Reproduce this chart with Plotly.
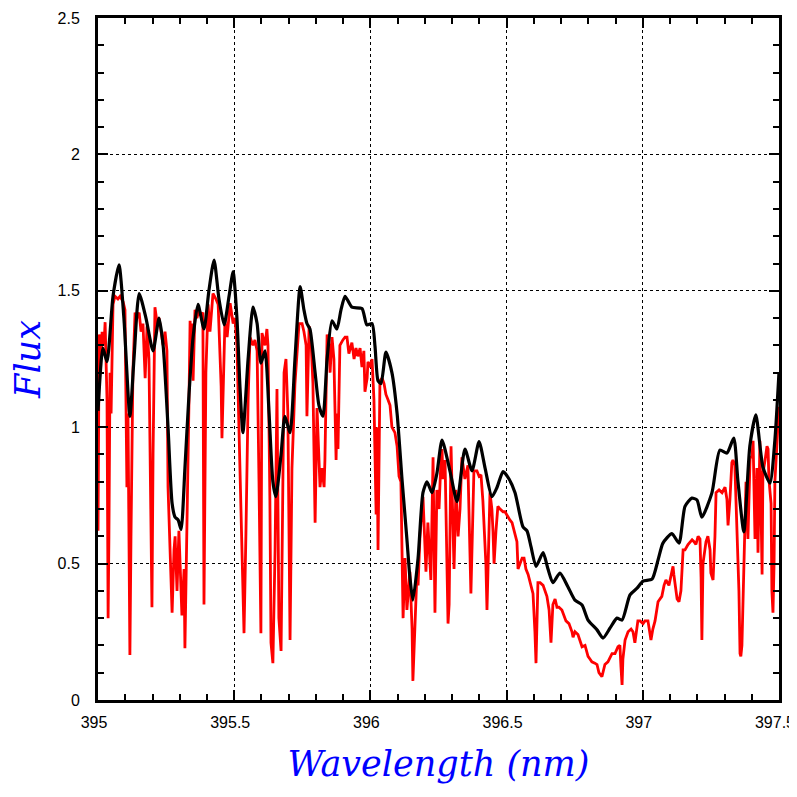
import plotly.graph_objects as go

# black spectrum (smooth)
wl_black = [395.000, 395.018, 395.033, 395.055, 395.077, 395.095, 395.117, 395.132, 395.151, 395.176,
            395.202, 395.224, 395.239, 395.257, 395.272, 395.283, 395.294, 395.305, 395.319, 395.334,
            395.349, 395.367, 395.389, 395.407, 395.426, 395.444, 395.463, 395.481, 395.496, 395.510,
            395.521, 395.532, 395.551, 395.569, 395.584, 395.598, 395.613, 395.628, 395.642, 395.653,
            395.672, 395.686, 395.705, 395.723, 395.742, 395.756, 395.767, 395.778, 395.797, 395.811,
            395.826, 395.841, 395.859, 395.877, 395.892, 395.907, 395.932, 395.969, 395.987, 396.006,
            396.017, 396.028, 396.039, 396.057, 396.079, 396.098, 396.116, 396.134, 396.145, 396.156,
            396.175, 396.193, 396.208, 396.226, 396.244, 396.263, 396.292, 396.318, 396.347, 396.373,
            396.399, 396.421, 396.446, 396.465, 396.487, 396.509, 396.531, 396.560, 396.575, 396.590,
            396.608, 396.634, 396.652, 396.670, 396.696, 396.725, 396.751, 396.777, 396.799, 396.832,
            396.854, 396.880, 396.905, 396.924, 396.953, 396.979, 397.001, 397.034, 397.056, 397.074,
            397.107, 397.133, 397.155, 397.180, 397.199, 397.217, 397.254, 397.283, 397.309, 397.334,
            397.349, 397.371, 397.393, 397.415, 397.441, 397.467, 397.485, 397.500]
flux_black = [1.06, 1.29, 1.24, 1.48, 1.595, 1.40, 1.04, 1.25, 1.49, 1.40,
              1.28, 1.40, 1.30, 1.00, 0.72, 0.67, 0.66, 0.625, 0.85, 1.12,
              1.33, 1.45, 1.36, 1.50, 1.613, 1.47, 1.375, 1.48, 1.57, 1.40,
              1.15, 0.98, 1.25, 1.44, 1.38, 1.235, 1.28, 1.05, 0.80, 0.745,
              0.90, 1.04, 0.98, 1.25, 1.515, 1.43, 1.38, 1.36, 1.20, 1.08,
              1.04, 1.25, 1.39, 1.36, 1.43, 1.48, 1.44, 1.435, 1.375, 1.38,
              1.295, 1.17, 1.16, 1.275, 1.20, 1.05, 0.81, 0.59, 0.45, 0.366,
              0.52, 0.76, 0.80, 0.76, 0.83, 0.953, 0.84, 0.727, 0.92, 0.84,
              0.947, 0.85, 0.745, 0.78, 0.837, 0.81, 0.76, 0.635, 0.62, 0.56,
              0.49, 0.54, 0.48, 0.43, 0.465, 0.415, 0.366, 0.348, 0.293, 0.257,
              0.227, 0.264, 0.30, 0.293, 0.385, 0.41, 0.436, 0.443, 0.513, 0.575,
              0.61, 0.575, 0.71, 0.74, 0.733, 0.67, 0.76, 0.916, 0.905, 0.96,
              0.806, 0.616, 0.93, 1.045, 0.854, 0.795, 0.953, 1.20]

# red spectrum (noisy)
wl_red = [395.000, 395.004, 395.011, 395.015, 395.022, 395.026, 395.033, 395.037, 395.040, 395.044,
          395.048, 395.055, 395.062, 395.073, 395.081, 395.092, 395.099, 395.106, 395.110, 395.117,
          395.121, 395.128, 395.136, 395.143, 395.151, 395.158, 395.165, 395.173, 395.180, 395.187,
          395.198, 395.202, 395.209, 395.217, 395.224, 395.231, 395.239, 395.246, 395.253, 395.257,
          395.264, 395.272, 395.279, 395.283, 395.290, 395.297, 395.308, 395.316, 395.319, 395.327,
          395.334, 395.338, 395.341, 395.345, 395.349, 395.356, 395.363, 395.371, 395.378, 395.385,
          395.389, 395.396, 395.404, 395.411, 395.422, 395.433, 395.441, 395.452, 395.455, 395.466,
          395.474, 395.485, 395.496, 395.503, 395.510, 395.521, 395.532, 395.536, 395.543, 395.551,
          395.558, 395.569, 395.576, 395.584, 395.591, 395.595, 395.598, 395.602, 395.613, 395.620,
          395.624, 395.631, 395.635, 395.642, 395.650, 395.657, 395.664, 395.672, 395.679, 395.683,
          395.690, 395.697, 395.705, 395.712, 395.723, 395.731, 395.738, 395.749, 395.756, 395.764,
          395.767, 395.775, 395.782, 395.789, 395.797, 395.804, 395.811, 395.815, 395.822, 395.830,
          395.833, 395.841, 395.848, 395.852, 395.859, 395.866, 395.874, 395.877, 395.881, 395.888,
          395.899, 395.907, 395.914, 395.921, 395.932, 395.940, 395.947, 395.954, 395.962, 395.969,
          395.976, 395.980, 395.988, 395.991, 395.999, 396.006, 396.013, 396.021, 396.024, 396.028,
          396.035, 396.043, 396.050, 396.057, 396.065, 396.072, 396.079, 396.090, 396.098, 396.105,
          396.112, 396.116, 396.120, 396.127, 396.134, 396.145, 396.153, 396.156, 396.164, 396.171,
          396.175, 396.182, 396.193, 396.204, 396.211, 396.222, 396.230, 396.237, 396.244, 396.252,
          396.259, 396.263, 396.266, 396.274, 396.285, 396.289, 396.296, 396.307, 396.314, 396.322,
          396.329, 396.336, 396.347, 396.358, 396.369, 396.380, 396.391, 396.399, 396.406, 396.413,
          396.424, 396.428, 396.439, 396.446, 396.450, 396.454, 396.461, 396.468, 396.476, 396.487,
          396.494, 396.505, 396.512, 396.520, 396.531, 396.538, 396.542, 396.549, 396.557, 396.564,
          396.571, 396.579, 396.590, 396.597, 396.604, 396.608, 396.615, 396.623, 396.634, 396.641,
          396.648, 396.656, 396.663, 396.670, 396.678, 396.685, 396.692, 396.703, 396.718, 396.729,
          396.740, 396.744, 396.751, 396.762, 396.769, 396.777, 396.788, 396.799, 396.806, 396.813,
          396.824, 396.832, 396.839, 396.850, 396.861, 396.872, 396.887, 396.898, 396.909, 396.916,
          396.920, 396.924, 396.927, 396.935, 396.946, 396.957, 396.964, 396.971, 396.982, 396.990,
          397.001, 397.008, 397.019, 397.026, 397.030, 397.037, 397.045, 397.056, 397.063, 397.070,
          397.078, 397.085, 397.096, 397.103, 397.111, 397.114, 397.122, 397.126, 397.133, 397.140,
          397.148, 397.155, 397.166, 397.173, 397.181, 397.188, 397.195, 397.203, 397.210, 397.214,
          397.217, 397.221, 397.232, 397.239, 397.247, 397.250, 397.258, 397.265, 397.269, 397.280,
          397.291, 397.302, 397.309, 397.313, 397.320, 397.327, 397.331, 397.338, 397.346, 397.353,
          397.357, 397.360, 397.364, 397.368, 397.375, 397.379, 397.386, 397.394, 397.401, 397.405,
          397.412, 397.419, 397.423, 397.430, 397.438, 397.441, 397.449, 397.456, 397.460, 397.463,
          397.471, 397.474, 397.478, 397.482, 397.485, 397.493, 397.500]
flux_red = [0.62, 1.34, 1.25, 1.35, 1.30, 1.385, 1.10, 0.30, 0.60, 1.20,
            1.05, 1.45, 1.48, 1.47, 1.48, 1.46, 1.43, 0.78, 1.05, 0.165,
            0.60, 1.20, 1.42, 1.40, 1.42, 1.35, 1.38, 1.18, 1.37, 1.25,
            0.34, 0.90, 1.44, 1.38, 1.40, 1.36, 1.30, 1.35, 1.28, 0.78,
            0.53, 0.32, 0.55, 0.60, 0.40, 0.62, 0.31, 0.48, 0.19, 0.78,
            1.10, 1.39, 1.30, 1.38, 1.17, 1.43, 1.40, 1.43, 1.41, 1.42,
            0.35, 1.20, 1.45, 1.35, 1.49, 1.47, 1.45, 1.15, 0.96, 1.39,
            1.33, 1.455, 1.38, 1.40, 1.30, 0.85, 0.45, 0.245, 0.61, 1.10,
            1.33, 1.30, 1.32, 1.28, 0.80, 0.40, 0.245, 1.345, 1.30, 1.36,
            1.30, 0.73, 0.21, 0.135, 0.55, 1.14, 0.30, 0.18, 0.90, 1.20,
            1.25, 1.05, 0.22, 0.85, 1.16, 1.30, 1.38, 1.38, 1.35, 1.30,
            1.04, 1.37, 1.32, 1.16, 0.65, 1.07, 0.90, 0.78, 0.85, 0.78,
            0.88, 1.34, 1.30, 1.20, 1.33, 1.25, 0.88, 1.05, 0.92, 1.30,
            1.32, 1.33, 1.33, 1.27, 1.31, 1.25, 1.29, 1.26, 1.29, 1.22,
            1.28, 1.13, 1.18, 1.24, 1.22, 1.25, 1.10, 0.68, 1.00, 0.55,
            1.17, 1.18, 1.16, 1.12, 1.10, 1.08, 1.00, 0.98, 0.93, 0.82,
            0.80, 0.61, 0.30, 0.52, 0.33, 0.47, 0.26, 0.07, 0.26, 0.47,
            0.42, 0.60, 0.745, 0.47, 0.65, 0.44, 0.89, 0.32, 0.77, 0.70,
            0.88, 0.92, 0.81, 0.88, 0.28, 0.35, 0.93, 0.48, 0.77, 0.60,
            0.70, 0.89, 0.81, 0.86, 0.39, 0.84, 0.84, 0.82, 0.825, 0.73,
            0.50, 0.33, 0.76, 0.70, 0.62, 0.50, 0.62, 0.71, 0.70, 0.69,
            0.69, 0.67, 0.66, 0.65, 0.60, 0.58, 0.48, 0.50, 0.52, 0.52,
            0.48, 0.46, 0.42, 0.39, 0.25, 0.135, 0.43, 0.43, 0.42, 0.40,
            0.38, 0.33, 0.21, 0.35, 0.37, 0.34, 0.34, 0.33, 0.29, 0.28,
            0.25, 0.23, 0.25, 0.24, 0.22, 0.195, 0.20, 0.16, 0.15, 0.14,
            0.135, 0.13, 0.10, 0.085, 0.13, 0.14, 0.17, 0.17, 0.195, 0.20,
            0.12, 0.055, 0.15, 0.22, 0.25, 0.26, 0.25, 0.21, 0.29, 0.29,
            0.28, 0.29, 0.29, 0.25, 0.22, 0.26, 0.29, 0.36, 0.37, 0.38,
            0.42, 0.44, 0.42, 0.46, 0.49, 0.46, 0.40, 0.37, 0.36, 0.40,
            0.55, 0.55, 0.57, 0.58, 0.587, 0.58, 0.57, 0.60, 0.59, 0.45,
            0.22, 0.50, 0.58, 0.60, 0.55, 0.465, 0.44, 0.60, 0.76, 0.77,
            0.76, 0.78, 0.735, 0.64, 0.735, 0.87, 0.88, 0.86, 0.59, 0.40,
            0.17, 0.16, 0.20, 0.39, 0.70, 0.80, 0.59, 0.89, 0.89, 0.95,
            0.59, 0.85, 0.54, 0.95, 0.46, 0.83, 0.88, 0.93, 0.92, 0.81,
            0.72, 0.40, 0.32, 0.50, 0.80, 0.95, 1.075]

x_ticks = [395, 395.5, 396, 396.5, 397, 397.5]
x_ticktext = ['395', '395.5', '396', '396.5', '397', '397.5']
y_ticks = [0, 0.5, 1, 1.5, 2, 2.5]
y_ticktext = ['0', '0.5', '1', '1.5', '2', '2.5']

fig = go.Figure()
fig.add_trace(go.Scatter(x=wl_red, y=flux_red, mode='lines',
                         line=dict(color='#ff0000', width=2.8)))
fig.add_trace(go.Scatter(x=wl_black, y=flux_black, mode='lines',
                         line=dict(color='black', width=3.2, shape='spline', smoothing=0.6)))

axis_common = dict(
    showline=True, linecolor='black', linewidth=3, mirror='allticks',
    ticks='inside', ticklen=10, tickwidth=2, tickcolor='black',
    minor=dict(ticks='inside', ticklen=6, tickwidth=2, tickcolor='black', showgrid=False),
    showgrid=True, gridcolor='black', gridwidth=1, griddash='3px,3px',
    zeroline=False, automargin=False, ticklabeloverflow='allow',
    tickfont=dict(family='Liberation Sans, Arial, sans-serif', size=16, color='black'),
)
title_font = dict(family='DejaVu Serif, serif', size=35, color='#0000ff')

fig.update_xaxes(range=[394.9999, 397.5001], tickvals=x_ticks, ticktext=x_ticktext,
                 ticklabelstandoff=6, ticklabelshift=-4, **axis_common)
fig.update_xaxes(minor_dtick=0.1, minor_tick0=395)
fig.update_xaxes(title=dict(text='<i>Wavelength (nm)</i>', font=title_font, standoff=22))
fig.update_yaxes(range=[-0.0001, 2.5001], tickvals=y_ticks, ticktext=y_ticktext,
                 ticklabelstandoff=12, **axis_common)
fig.update_yaxes(minor_dtick=0.1, minor_tick0=0)
fig.update_yaxes(title=dict(text='<i>Flux</i>', font=title_font, standoff=16))

# page body adds an 8px offset, so the figure is sized 789 and margins shifted
fig.update_layout(
    width=789, height=789,
    margin=dict(l=90, r=18, t=10, b=97),
    plot_bgcolor='white', paper_bgcolor='white',
    showlegend=False,
)

fig.write_html("out.html")
